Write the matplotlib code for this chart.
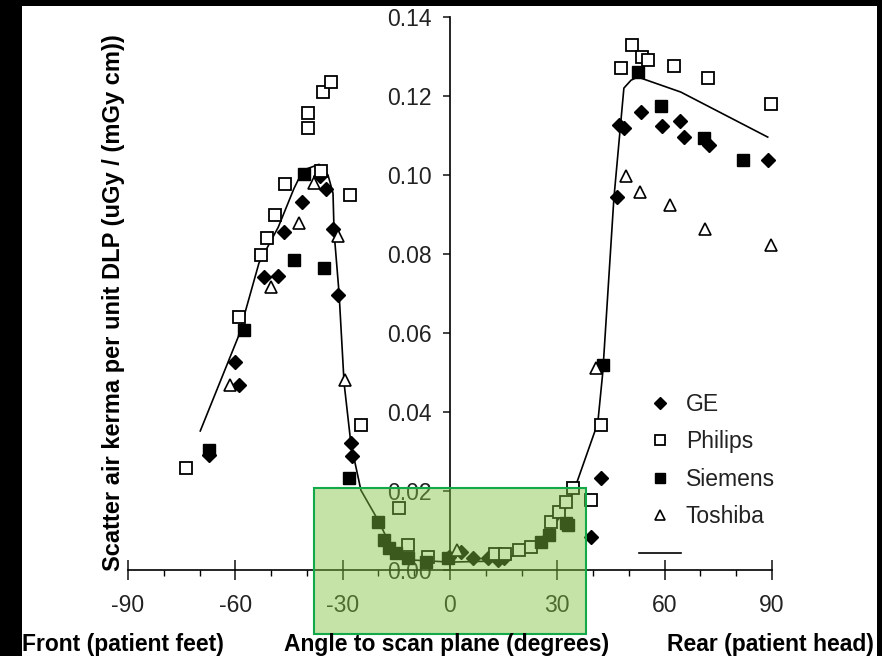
import numpy as np
import matplotlib
matplotlib.use("Agg")
import matplotlib.pyplot as plt
from matplotlib.patches import Rectangle
from matplotlib.lines import Line2D

plt.rcParams['font.family'] = ['Liberation Sans', 'DejaVu Sans']
plt.rcParams['axes.unicode_minus'] = False

# GE (filled diamonds)
ge_x = [-67.3, -60.0, -58.9, -52.0, -48.0, -46.4, -41.3, -36.3, -34.6, -32.7, -31.3,
        -27.7, -27.4, -0.3, 3.1, 6.4, 10.6, 13.4, 15.1,
        39.4, 42.2, 46.6, 47.2, 48.6, 53.4, 59.2, 64.2, 65.4, 72.3, 88.8]
ge_y = [0.029, 0.0526, 0.0468, 0.0741, 0.0744, 0.0855, 0.0931, 0.0997, 0.0964, 0.0863, 0.0696,
        0.0321, 0.0288, 0.0033, 0.0046, 0.0030, 0.0030, 0.0025, 0.0030,
        0.0084, 0.0233, 0.0944, 0.1126, 0.1118, 0.1159, 0.1123, 0.1136, 0.1095, 0.1075, 0.1037]

# Philips (open squares)
ph_x = [-73.7, -58.9, -52.8, -51.1, -48.9, -46.1, -39.7, -39.7, -35.5, -33.2, -36.0,
        -27.9, -24.9, -14.2, -11.8, -6.2, 12.5, 15.5, 19.3, 22.7, 28.2, 30.4, 32.4,
        34.3, 39.4, 42.2, 47.8, 50.8, 53.6, 55.3, 62.6, 72.1, 89.7]
ph_y = [0.0258, 0.064, 0.0797, 0.084, 0.090, 0.0977, 0.1156, 0.112, 0.121, 0.1235, 0.101,
        0.0949, 0.0367, 0.0157, 0.0063, 0.0033, 0.0040, 0.0040, 0.0050, 0.0058, 0.0121, 0.0147, 0.0172,
        0.0207, 0.0177, 0.0367, 0.127, 0.1328, 0.130, 0.129, 0.1275, 0.1245, 0.118]

# Siemens (filled squares)
si_x = [-67.3, -57.5, -43.6, -40.8, -35.2, -28.2, -20.1, -18.4, -17.0, -15.1, -11.7,
        -6.7, -0.6, 25.4, 27.7, 32.4, 33.0, 42.7, 52.5, 58.9, 71.0, 81.8]
si_y = [0.0304, 0.0607, 0.0784, 0.1002, 0.0764, 0.0233, 0.0121, 0.0076, 0.0056, 0.0043, 0.0030,
        0.0020, 0.0030, 0.0071, 0.0089, 0.0119, 0.0114, 0.0519, 0.126, 0.1174, 0.1093, 0.1037]

# Toshiba (open triangles)
to_x = [-61.5, -50.0, -42.2, -38.0, -31.3, -29.3, 2.0, 40.8, 49.2, 53.1, 61.5, 71.2, 89.7]
to_y = [0.0468, 0.0716, 0.0878, 0.098, 0.0845, 0.048, 0.005, 0.0511, 0.0997, 0.0957, 0.0923, 0.0863, 0.0822]

# fitted curve
fit_x = [-69.8, -59.2, -53.4, -48.0, -43.6, -41.1, -36.6, -34.1, -32.7, -32.4, -31.0, -29.6,
         -27.7, -24.9, -20.1, -15.6, -10.0, 0.0, 10.0, 20.0, 28.0, 32.0, 35.2, 41.3, 42.7,
         45.8, 48.6, 50.6, 52.5, 64.5, 88.8]
fit_y = [0.0352, 0.059, 0.0777, 0.0868, 0.0966, 0.1012, 0.1027, 0.100, 0.0954, 0.0855, 0.070, 0.0473,
         0.032, 0.0202, 0.0126, 0.0043, 0.0025, 0.0020, 0.0022, 0.0040, 0.0100, 0.0150, 0.0215, 0.0372, 0.050,
         0.094, 0.122, 0.124, 0.1248, 0.121, 0.1096]

W, H = 882, 656
fig = plt.figure(figsize=(W / 100, H / 100), dpi=100, facecolor='black')
fig.patches.append(Rectangle((22 / W, 0), (877 - 22) / W, (H - 6) / H,
                             transform=fig.transFigure, facecolor='white',
                             edgecolor='none', zorder=-10))

# axes placement: x -90..90 -> px 128..772, y 0..0.14 -> px 570..17
ymin, ymax = -0.017, 0.14
top_px, zero_px = 17, 570
ppu = (zero_px - top_px) / 0.14
bot_px = zero_px + (-ymin) * ppu
ax = fig.add_axes([128 / W, 1 - bot_px / H, (772 - 128) / W, (bot_px - top_px) / H])
ax.set_facecolor('none')
ax.set_xlim(-90, 90)
ax.set_ylim(ymin, ymax)

ax.plot(fit_x, fit_y, color='black', lw=1.2, zorder=2, clip_on=False)
ax.plot(ge_x, ge_y, 'D', ms=7.5, mfc='black', mec='black', ls='none', zorder=3, clip_on=False)
ax.plot(ph_x, ph_y, 's', ms=8, mfc='white', mec='black', mew=1.3, ls='none', zorder=3, clip_on=False)
ax.plot(si_x, si_y, 's', ms=8, mfc='black', mec='black', ls='none', zorder=3, clip_on=False)
ax.plot(to_x, to_y, '^', ms=8, mfc='white', mec='black', mew=1.2, ls='none', zorder=3, clip_on=False)

for s in ['top', 'right']:
    ax.spines[s].set_visible(False)
ax.spines['left'].set_position(('data', 0))
ax.spines['bottom'].set_position(('data', 0))
ax.spines['left'].set_bounds(0, 0.14)
ax.spines['bottom'].set_bounds(-90, 90)
ax.spines['left'].set_linewidth(1.2)
ax.spines['bottom'].set_linewidth(1.2)

ax.set_xticks(np.arange(-90, 91, 30))
ax.set_xticks(np.arange(-80, 90, 10), minor=True)
ax.set_yticks(np.arange(0, 0.141, 0.02))
ax.set_yticklabels(['%.2f' % v for v in np.arange(0, 0.141, 0.02)])
ax.tick_params(axis='x', which='major', direction='inout', length=14, width=1.2,
               pad=10, labelsize=16.5, colors='#222222')
ax.tick_params(axis='x', which='minor', direction='out', length=4, width=1.0)
ax.tick_params(axis='y', direction='out', length=5, width=1.2, pad=8,
               labelsize=16.5, colors='#222222')

# legend
handles = [
    Line2D([], [], marker='D', ms=6.5, mfc='black', mec='black', ls='none'),
    Line2D([], [], marker='s', ms=7, mfc='white', mec='black', mew=1.3, ls='none'),
    Line2D([], [], marker='s', ms=7, mfc='black', mec='black', ls='none'),
    Line2D([], [], marker='^', ms=7, mfc='white', mec='black', mew=1.2, ls='none'),
    Line2D([], [], color='black', lw=1.2),
]
labels = ['GE', 'Philips', 'Siemens', 'Toshiba', '']
leg = ax.legend(handles, labels, loc='upper left', bbox_to_anchor=(639 / W, 1 - 393 / H),
                bbox_transform=fig.transFigure, frameon=False, fontsize=16.5,
                handlelength=1.85, handletextpad=0.2, labelspacing=0.63,
                borderpad=0, borderaxespad=0)
for t in leg.get_texts():
    t.set_color('#222222')

# highlight box
box_face = (130 / 255, 196 / 255, 65 / 255)
ax.add_patch(Rectangle((-38, -0.0162), 76, 0.037, facecolor=box_face, alpha=0.46,
                       edgecolor='none', zorder=5, clip_on=False))
ax.add_patch(Rectangle((-38, -0.0162), 76, 0.037, facecolor='none',
                       edgecolor='#12a94a', lw=1.5, zorder=6, clip_on=False))

fig.text(114 / W, 1 - 303 / H, 'Scatter air kerma per unit DLP (uGy / (mGy cm))',
         rotation=90, ha='center', va='center', fontsize=17, fontweight='bold')
fig.text(22 / W, 1 - 644 / H, 'Front (patient feet)', ha='left', va='center',
         fontsize=16.5, fontweight='bold')
fig.text(447 / W, 1 - 644 / H, 'Angle to scan plane (degrees)', ha='center', va='center',
         fontsize=16.5, fontweight='bold')
fig.text(874 / W, 1 - 644 / H, 'Rear (patient head)', ha='right', va='center',
         fontsize=16.5, fontweight='bold')

fig.savefig('out.png', dpi=100, facecolor=fig.get_facecolor())
